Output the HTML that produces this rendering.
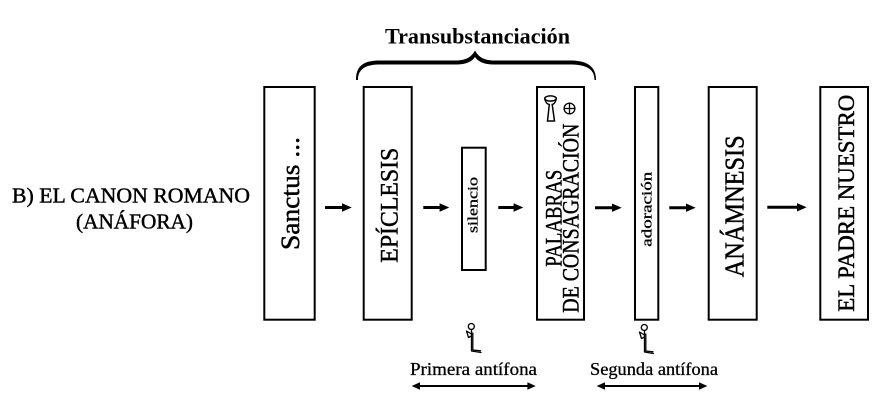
<!DOCTYPE html>
<html>
<head>
<meta charset="utf-8">
<style>
html,body{margin:0;padding:0;background:#fff;}
svg{display:block;}
text{font-family:"Liberation Serif",serif;fill:#000;}
.w{stroke:#000;stroke-width:0.45;}
.ws{stroke:#000;stroke-width:0.3;}
</style>
</head>
<body>
<svg width="892" height="412" viewBox="0 0 892 412" xmlns="http://www.w3.org/2000/svg">
<rect x="0" y="0" width="892" height="412" fill="#fff"/>

<!-- Left label -->
<text class="w" x="12" y="202.7" font-size="21.5" textLength="238" lengthAdjust="spacingAndGlyphs">B) EL CANON ROMANO</text>
<text class="w" x="76" y="228.3" font-size="21.5" textLength="117" lengthAdjust="spacingAndGlyphs">(ANÁFORA)</text>

<!-- Title -->
<text x="385" y="43.3" font-size="22" font-weight="bolder" textLength="185" lengthAdjust="spacingAndGlyphs">Transubstanciación</text>

<!-- Brace -->
<path d="M356,80 C356,67 362,61 378,60.5 L456,60.5 C467,60.5 472,56 475,50.5 C478,56 483,60.5 494,60.5 L572,60.5 C588,61 596,67 596,80 L594.5,80 C594.5,70 588,65 572,64.5 L494,64.5 C484,64.5 478,61.5 475,57 C472,61.5 466,64.5 456,64.5 L378,64.5 C364,65 358,70 358,80 Z" fill="#000"/>

<!-- Boxes -->
<g fill="none" stroke="#000" stroke-width="2">
<rect x="264.3" y="87" width="50.4" height="232.7"/>
<rect x="363.7" y="87" width="48" height="232.7"/>
<rect x="462" y="147.7" width="23.7" height="122.3"/>
<rect x="537" y="87" width="47" height="232.7"/>
<rect x="635" y="87" width="23.3" height="232.7"/>
<rect x="708.7" y="87" width="48" height="232.7"/>
<rect x="820.3" y="87" width="47.7" height="232.7"/>
</g>

<!-- Vertical texts -->
<text class="w" transform="translate(299,250) rotate(-90)" font-size="26" textLength="113" lengthAdjust="spacingAndGlyphs">Sanctus ...</text>
<text class="w" transform="translate(397.7,262.7) rotate(-90)" font-size="25.5" textLength="115" lengthAdjust="spacingAndGlyphs">EPÍCLESIS</text>
<text class="ws" transform="translate(477.7,233) rotate(-90)" font-size="15" textLength="56" lengthAdjust="spacingAndGlyphs">silencio</text>
<text class="w" transform="translate(561.7,266.7) rotate(-90)" font-size="23.5" textLength="97" lengthAdjust="spacingAndGlyphs">PALABRAS</text>
<text class="w" transform="translate(578.3,312.7) rotate(-90)" font-size="23" textLength="189" lengthAdjust="spacingAndGlyphs">DE CONSAGRACIÓN</text>
<text class="ws" transform="translate(651.7,246.7) rotate(-90)" font-size="15" textLength="75" lengthAdjust="spacingAndGlyphs">adoración</text>
<text class="w" transform="translate(743.3,277.3) rotate(-90)" font-size="27" textLength="142" lengthAdjust="spacingAndGlyphs">ANÁMNESIS</text>
<text class="w" transform="translate(854,311.7) rotate(-90)" font-size="23.5" textLength="217" lengthAdjust="spacingAndGlyphs">EL PADRE NUESTRO</text>

<!-- Chalice icon -->
<g fill="none" stroke="#000" stroke-width="1.5">
<ellipse cx="550.5" cy="98.5" rx="5.8" ry="2.6"/>
<path d="M544.8,99 Q546,104 549.3,104.5 L547.5,121 L554.5,121 L552.2,104.5 Q555,104 556.2,99"/>
</g>
<!-- Circle plus -->
<g fill="none" stroke="#000" stroke-width="1.3">
<circle cx="569.5" cy="108.5" r="5.4"/>
<line x1="564.1" y1="108.5" x2="574.9" y2="108.5"/>
<line x1="569.5" y1="103.1" x2="569.5" y2="113.9"/>
</g>

<!-- Arrows -->
<g stroke="#000" stroke-width="3">
<line x1="325" y1="207.5" x2="344" y2="207.5"/>
<line x1="423.3" y1="207.5" x2="442" y2="207.5"/>
<line x1="498.3" y1="207.5" x2="516" y2="207.5"/>
<line x1="595" y1="207.7" x2="614" y2="207.7"/>
<line x1="669.3" y1="207.7" x2="688" y2="207.7"/>
<line x1="767.3" y1="207.3" x2="799" y2="207.3"/>
</g>
<g fill="#000">
<polygon points="351.7,207.5 342,203.3 342,211.7"/>
<polygon points="449.3,207.5 439.6,203.3 439.6,211.7"/>
<polygon points="523.3,207.5 513.6,203.3 513.6,211.7"/>
<polygon points="621.7,207.7 612,203.5 612,211.9"/>
<polygon points="695.7,207.7 686,203.5 686,211.9"/>
<polygon points="806.7,207.3 797,203.1 797,211.5"/>
</g>

<!-- Kneeling figures -->
<g fill="none" stroke="#000" stroke-width="1.3" stroke-linecap="round" stroke-linejoin="round">
<circle cx="471.3" cy="326.5" r="3"/>
<path d="M471.5,329.5 L471.5,351 L481,352.5"/>
<path d="M472.8,333 L472.8,350 L480.5,350.8"/>
<path d="M471.5,334 L466.5,331 L468.5,337.5 L471.5,336"/>
<circle cx="644.3" cy="327.5" r="3"/>
<path d="M644.5,330.5 L644.5,352 L653.5,353.5"/>
<path d="M645.8,334 L645.8,351 L653,351.8"/>
<path d="M644.5,335 L639.5,332 L641.5,338.5 L644.5,337"/>
</g>

<!-- Bottom labels -->
<text class="ws" x="410" y="375" font-size="18" textLength="127" lengthAdjust="spacingAndGlyphs">Primera antífona</text>
<text class="ws" x="590" y="375" font-size="18" textLength="128" lengthAdjust="spacingAndGlyphs">Segunda antífona</text>

<!-- Double arrows -->
<g stroke="#000" stroke-width="2">
<line x1="418" y1="386" x2="530" y2="386"/>
<line x1="603" y1="386" x2="701" y2="386"/>
</g>
<g fill="#000">
<polygon points="411.7,386 420,382.3 420,389.7"/>
<polygon points="535.7,386 527.4,382.3 527.4,389.7"/>
<polygon points="596.7,386 605,382.3 605,389.7"/>
<polygon points="707.3,386 699,382.3 699,389.7"/>
</g>
</svg>
</body>
</html>
